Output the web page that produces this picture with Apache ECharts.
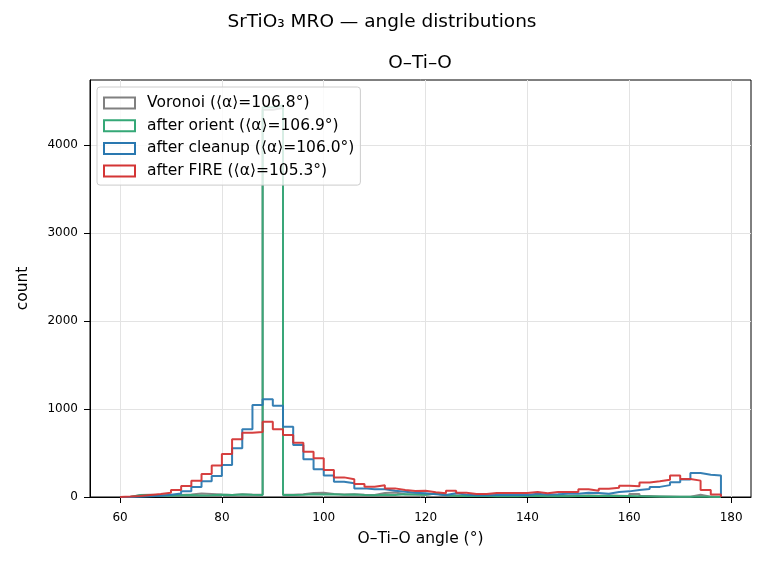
<!DOCTYPE html>
<html>
<head>
<meta charset="utf-8">
<script src="https://cdn.jsdelivr.net/npm/echarts@6/dist/echarts.min.js"></script>
<style>
    html, body { margin: 0; padding: 0; background: #fff; }
    #chart { width: 764px; height: 562px; }
</style>
</head>
<body>
<div id="chart"></div>
<script>
// bin edges: 60..178, width 2
var binStart = 60;
var binWidth = 2;

var seriesNames = ['Voronoi (⟨α⟩=106.8°)', 'after orient (⟨α⟩=106.9°)', 'after cleanup (⟨α⟩=106.0°)', 'after FIRE (⟨α⟩=105.3°)'];
var seriesColors = ['#808080', '#35a877', '#2a78b0', '#d43535'];

var voronoiCounts = [0, 22, 25, 20, 18, 22, 28, 40, 35, 28, 24, 30, 26, 25, 4400, 4420, 25, 30, 45, 48, 35, 28, 30, 25, 24, 45, 50, 30, 28, 25, 38, 22, 18, 14, 12, 12, 10, 12, 10, 12, 14, 10, 12, 10, 14, 16, 14, 16, 14, 12, 35, 10, 6, 5, 4, 4, 25, 4, 2];
var orientCounts = [0, 20, 22, 18, 15, 20, 22, 18, 20, 25, 22, 28, 25, 24, 4430, 4450, 22, 25, 30, 28, 32, 25, 28, 22, 20, 25, 22, 30, 28, 25, 40, 20, 15, 12, 10, 10, 8, 10, 8, 10, 12, 8, 10, 8, 12, 15, 12, 15, 12, 10, 8, 6, 5, 4, 3, 3, 2, 2, 1];
var cleanupCounts = [1, 4, 8, 15, 25, 40, 65, 115, 180, 239, 364, 553, 770, 1045, 1112, 1038, 799, 591, 428, 314, 245, 174, 155, 98, 87, 87, 72, 61, 49, 42, 30, 23, 42, 27, 19, 19, 23, 23, 23, 23, 38, 27, 30, 38, 38, 49, 45, 38, 57, 64, 80, 90, 115, 135, 167, 200, 273, 254, 243];
var fireCounts = [5, 11, 23, 34, 49, 80, 125, 186, 261, 358, 489, 655, 731, 739, 856, 769, 705, 617, 515, 439, 307, 223, 201, 148, 117, 133, 98, 80, 68, 72, 53, 42, 72, 49, 34, 34, 45, 45, 45, 45, 57, 42, 57, 57, 57, 87, 72, 95, 106, 129, 121, 165, 178, 197, 243, 205, 186, 80, 27];

var xTicks = [60, 80, 100, 120, 140, 160, 180];
var yTicks = [0, 1000, 2000, 3000, 4000];

var fontName = 'DejaVu Sans';

// outline of a step histogram built from the counts
function stepOutline(counts) {
    var pts = [[binStart, 0]];
    for (var i = 0; i < counts.length; i++) {
        pts.push([binStart + i * binWidth, counts[i]]);
    }
    pts.push([binStart + counts.length * binWidth, 0]);
    return pts;
}

var allCounts = [voronoiCounts, orientCounts, cleanupCounts, fireCounts];
var series = [];
var legendData = [];
for (var k = 0; k < allCounts.length; k++) {
    series.push({
        name: seriesNames[k],
        type: 'line',
        step: 'end',
        symbol: 'none',
        z: 2 + k,
        data: stepOutline(allCounts[k]),
        lineStyle: { color: seriesColors[k], width: 2, opacity: 0.95 },
        itemStyle: { color: seriesColors[k] }
    });
    legendData.push({
        name: seriesNames[k],
        icon: 'rect',
        itemStyle: { color: 'rgba(255,255,255,0)', borderColor: seriesColors[k], borderWidth: 2 }
    });
}

var myChart = echarts.init(document.getElementById('chart'), null, { renderer: 'canvas' });
var option = {
    animation: false,
    backgroundColor: '#fff',
    textStyle: { fontFamily: fontName },
    grid: {
        left: 90,
        right: 13,
        top: 80,
        bottom: 65,
        show: true,
        borderColor: '#000',
        borderWidth: 1,
        containLabel: false
    },
    graphic: [
        {
            type: 'text', x: 382, y: 22,
            style: { text: 'SrTiO₃ MRO — angle distributions', fontFamily: fontName, fontSize: 18.5, fill: '#000', textAlign: 'center', textVerticalAlign: 'middle' }
        },
        {
            type: 'text', x: 420, y: 63,
            style: { text: 'O–Ti–O', fontFamily: fontName, fontSize: 18.5, fill: '#000', textAlign: 'center', textVerticalAlign: 'middle' }
        }
    ],
    legend: {
        orient: 'vertical',
        left: 97,
        top: 87,
        padding: [7, 6, 5, 6],
        itemGap: 4.7,
        itemWidth: 31,
        itemHeight: 11,
        backgroundColor: 'rgba(255,255,255,0.8)',
        borderColor: '#cccccc',
        borderWidth: 1,
        borderRadius: 3,
        textStyle: { fontFamily: fontName, fontSize: 15.5, lineHeight: 18, color: '#000', padding: [0, 0, 0, 7] },
        data: legendData
    },
    xAxis: {
        type: 'value',
        min: 54.1,
        max: 183.9,
        name: 'O–Ti–O angle (°)',
        nameLocation: 'middle',
        nameGap: 34,
        nameTextStyle: { fontFamily: fontName, fontSize: 15.5, color: '#000' },
        axisLine: { show: true, onZero: false, lineStyle: { color: '#000', width: 1 } },
        axisTick: { show: true, inside: false, length: 6, customValues: xTicks, lineStyle: { color: '#000' } },
        axisLabel: { customValues: xTicks, fontFamily: fontName, fontSize: 12, color: '#000', margin: 15 },
        splitLine: { show: true, lineStyle: { color: '#e3e3e3', width: 1 } }
    },
    yAxis: {
        type: 'value',
        min: 0,
        max: 4739,
        name: 'count',
        nameLocation: 'middle',
        nameGap: 59,
        nameRotate: 90,
        nameTextStyle: { fontFamily: fontName, fontSize: 15.5, color: '#000' },
        axisLine: { show: true, lineStyle: { color: '#000', width: 1 } },
        axisTick: { show: true, inside: false, length: 6, customValues: yTicks, lineStyle: { color: '#000' } },
        axisLabel: {
            customValues: yTicks, fontFamily: fontName, fontSize: 12, color: '#000', margin: 12,
            formatter: function (v) { return String(v); }
        },
        splitLine: { show: true, lineStyle: { color: '#e3e3e3', width: 1 } }
    },
    series: series
};
myChart.setOption(option);
</script>
</body>
</html>
